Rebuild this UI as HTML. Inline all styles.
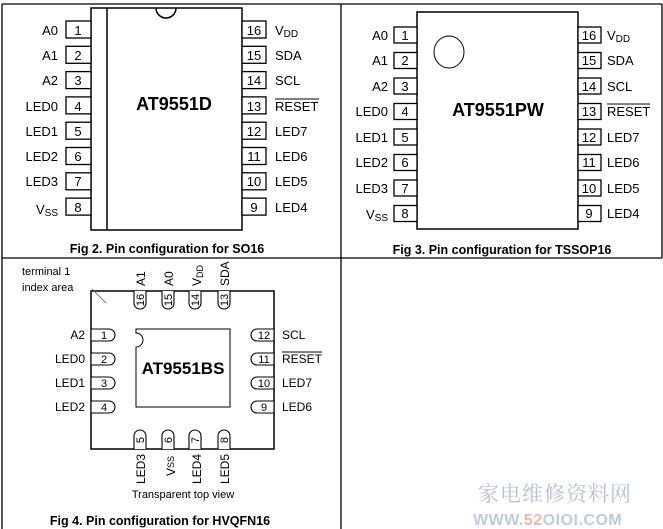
<!DOCTYPE html>
<html><head><meta charset="utf-8"><style>
html,body{margin:0;padding:0;background:#fff;}
svg{display:block;}
text{font-family:"Liberation Sans",Arial,sans-serif;fill:#000;}
.l{font-size:13px;}
.n{font-size:13px;}
.cap{font-size:12.5px;font-weight:bold;}
.t{font-size:18px;font-weight:bold;}
</style></head><body>
<svg width="663" height="529" viewBox="0 0 663 529" xmlns="http://www.w3.org/2000/svg">
<g stroke="#000" stroke-width="1.3" fill="none">
<line x1="2" y1="4" x2="662" y2="4"/>
<line x1="2" y1="4" x2="2" y2="529"/>
<line x1="341" y1="4" x2="341" y2="529"/>
<line x1="662" y1="4" x2="662" y2="258"/>
<line x1="2" y1="258" x2="662" y2="258"/>
</g>

<!-- SO16 -->
<g stroke="#000" stroke-width="1.5" fill="#fff">
<rect x="91" y="8" width="151" height="222"/>
<line x1="107" y1="8" x2="107" y2="230"/>
<path d="M156 8 A10 10 0 0 0 176 8" fill="none"/>
</g>
<g stroke="#000" stroke-width="1.3" fill="#fff">
<rect x="66" y="21" width="25" height="17"/><rect x="66" y="46.3" width="25" height="17"/><rect x="66" y="71.6" width="25" height="17"/><rect x="66" y="96.9" width="25" height="17"/>
<rect x="66" y="122.2" width="25" height="17"/><rect x="66" y="147.5" width="25" height="17"/><rect x="66" y="172.8" width="25" height="17"/><rect x="66" y="198.1" width="25" height="17"/>
<rect x="242" y="21" width="24" height="17"/><rect x="242" y="46.3" width="24" height="17"/><rect x="242" y="71.6" width="24" height="17"/><rect x="242" y="96.9" width="24" height="17"/>
<rect x="242" y="122.2" width="24" height="17"/><rect x="242" y="147.5" width="24" height="17"/><rect x="242" y="172.8" width="24" height="17"/><rect x="242" y="198.1" width="24" height="17"/>
</g>
<g class="n" text-anchor="middle">
<text x="78" y="35">1</text><text x="78" y="60">2</text><text x="78" y="85">3</text><text x="78" y="111">4</text><text x="78" y="136">5</text><text x="78" y="161">6</text><text x="78" y="186">7</text><text x="78" y="212">8</text>
<text x="254" y="35">16</text><text x="254" y="60">15</text><text x="254" y="85">14</text><text x="254" y="111">13</text><text x="254" y="136">12</text><text x="254" y="161">11</text><text x="254" y="186">10</text><text x="254" y="212">9</text>
</g>
<g class="l" text-anchor="end">
<text x="58" y="35">A0</text><text x="58" y="60">A1</text><text x="58" y="85">A2</text><text x="58" y="111">LED0</text><text x="58" y="136">LED1</text><text x="58" y="161">LED2</text><text x="58" y="186">LED3</text><text x="58" y="214">V<tspan font-size="10" dy="2">SS</tspan></text>
</g>
<g class="l">
<text x="275" y="35">V<tspan font-size="10" dy="2">DD</tspan></text><text x="275" y="60">SDA</text><text x="275" y="85">SCL</text><text x="275" y="111">RESET</text><text x="275" y="136">LED7</text><text x="275" y="161">LED6</text><text x="275" y="186">LED5</text><text x="275" y="212">LED4</text>
</g>
<line x1="275" y1="99" x2="319" y2="99" stroke="#000" stroke-width="1"/>
<text class="t" x="174" y="110" text-anchor="middle">AT9551D</text>
<text class="cap" x="167" y="253" text-anchor="middle">Fig 2. Pin configuration for SO16</text>

<!-- TSSOP16 -->
<g stroke="#000" stroke-width="1.5" fill="#fff">
<rect x="417" y="12" width="161" height="217"/>
<ellipse cx="449" cy="52" rx="15" ry="16" stroke-width="1"/>
</g>
<g stroke="#000" stroke-width="1.3" fill="#fff">
<rect x="394" y="27" width="23" height="16"/><rect x="394" y="52.5" width="23" height="16"/><rect x="394" y="78" width="23" height="16"/><rect x="394" y="103.5" width="23" height="16"/>
<rect x="394" y="129" width="23" height="16"/><rect x="394" y="154.5" width="23" height="16"/><rect x="394" y="180" width="23" height="16"/><rect x="394" y="205.5" width="23" height="16"/>
<rect x="578" y="27" width="23" height="16"/><rect x="578" y="52.5" width="23" height="16"/><rect x="578" y="78" width="23" height="16"/><rect x="578" y="103.5" width="23" height="16"/>
<rect x="578" y="129" width="23" height="16"/><rect x="578" y="154.5" width="23" height="16"/><rect x="578" y="180" width="23" height="16"/><rect x="578" y="205.5" width="23" height="16"/>
</g>
<g class="n" text-anchor="middle">
<text x="405" y="40">1</text><text x="405" y="65">2</text><text x="405" y="91">3</text><text x="405" y="116">4</text><text x="405" y="142">5</text><text x="405" y="167">6</text><text x="405" y="193">7</text><text x="405" y="218">8</text>
<text x="589" y="40">16</text><text x="589" y="65">15</text><text x="589" y="91">14</text><text x="589" y="116">13</text><text x="589" y="142">12</text><text x="589" y="167">11</text><text x="589" y="193">10</text><text x="589" y="218">9</text>
</g>
<g class="l" text-anchor="end">
<text x="388" y="40">A0</text><text x="388" y="65">A1</text><text x="388" y="91">A2</text><text x="388" y="116">LED0</text><text x="388" y="142">LED1</text><text x="388" y="167">LED2</text><text x="388" y="193">LED3</text><text x="388" y="219">V<tspan font-size="10" dy="2">SS</tspan></text>
</g>
<g class="l">
<text x="607" y="40">V<tspan font-size="10" dy="2">DD</tspan></text><text x="607" y="65">SDA</text><text x="607" y="91">SCL</text><text x="607" y="116">RESET</text><text x="607" y="142">LED7</text><text x="607" y="167">LED6</text><text x="607" y="193">LED5</text><text x="607" y="218">LED4</text>
</g>
<line x1="607" y1="104" x2="650" y2="104" stroke="#000" stroke-width="1"/>
<text class="t" x="498" y="116" text-anchor="middle">AT9551PW</text>
<text class="cap" x="502" y="254" text-anchor="middle">Fig 3. Pin configuration for TSSOP16</text>

<!-- HVQFN16 -->
<rect x="91" y="291" width="183" height="158" stroke="#000" stroke-width="1.5" fill="#fff"/>
<path d="M136 329 L230 329 L230 407 L136 407 L136 347 A7 7 0 0 0 136 333 Z" stroke="#000" stroke-width="1" fill="#fff"/>
<line x1="92" y1="289" x2="106" y2="303" stroke="#555" stroke-width="0.8"/>
<g stroke="#000" stroke-width="1.1" fill="#fff">
<path d="M91 329 H109 A6 6 0 0 1 109 341 H91 Z"/>
<path d="M91 353 H109 A6 6 0 0 1 109 365 H91 Z"/>
<path d="M91 377 H109 A6 6 0 0 1 109 389 H91 Z"/>
<path d="M91 401 H109 A6 6 0 0 1 109 413 H91 Z"/>
<path d="M274 329 H257 A6 6 0 0 0 257 341 H274 Z"/>
<path d="M274 353 H257 A6 6 0 0 0 257 365 H274 Z"/>
<path d="M274 377 H257 A6 6 0 0 0 257 389 H274 Z"/>
<path d="M274 401 H257 A6 6 0 0 0 257 413 H274 Z"/>
<path d="M134 291 V303 A6 6 0 0 0 146 303 V291"/>
<path d="M162 291 V303 A6 6 0 0 0 174 303 V291"/>
<path d="M189 291 V303 A6 6 0 0 0 201 303 V291"/>
<path d="M218 291 V303 A6 6 0 0 0 230 303 V291"/>
<path d="M134 449 V436 A6 6 0 0 1 146 436 V449"/>
<path d="M162 449 V436 A6 6 0 0 1 174 436 V449"/>
<path d="M189 449 V436 A6 6 0 0 1 201 436 V449"/>
<path d="M218 449 V436 A6 6 0 0 1 230 436 V449"/>
</g>
<g style="font-size:11px" text-anchor="middle">
<text x="104" y="339">1</text><text x="104" y="363">2</text><text x="104" y="387">3</text><text x="104" y="411">4</text>
<text x="264" y="339">12</text><text x="264" y="363">11</text><text x="264" y="387">10</text><text x="264" y="411">9</text>
<text transform="translate(144,300) rotate(-90)">16</text>
<text transform="translate(172,300) rotate(-90)">15</text>
<text transform="translate(199,300) rotate(-90)">14</text>
<text transform="translate(228,300) rotate(-90)">13</text>
<text transform="translate(144,440) rotate(-90)">5</text>
<text transform="translate(172,440) rotate(-90)">6</text>
<text transform="translate(199,440) rotate(-90)">7</text>
<text transform="translate(228,440) rotate(-90)">8</text>
</g>
<g style="font-size:12px">
<text x="85" y="339" text-anchor="end">A2</text><text x="85" y="363" text-anchor="end">LED0</text><text x="85" y="387" text-anchor="end">LED1</text><text x="85" y="411" text-anchor="end">LED2</text>
<text x="282" y="339">SCL</text><text x="282" y="363">RESET</text><text x="282" y="387">LED7</text><text x="282" y="411">LED6</text>
<text transform="translate(145,286) rotate(-90)">A1</text>
<text transform="translate(173,286) rotate(-90)">A0</text>
<text transform="translate(201,286) rotate(-90)">V<tspan font-size="9" dy="2">DD</tspan></text>
<text transform="translate(229,286) rotate(-90)">SDA</text>
<text transform="translate(145,484) rotate(-90)">LED3</text>
<text transform="translate(175,476) rotate(-90)">V<tspan font-size="9" dy="-1">SS</tspan></text>
<text transform="translate(201,484) rotate(-90)">LED4</text>
<text transform="translate(229,484) rotate(-90)">LED5</text>
</g>
<line x1="282" y1="352" x2="322" y2="352" stroke="#000" stroke-width="1"/>
<text style="font-size:11px" x="22" y="275">terminal 1</text>
<text style="font-size:11px" x="22" y="291">index area</text>
<text class="t" x="183" y="374" text-anchor="middle" style="font-size:17px">AT9551BS</text>
<text style="font-size:11px" x="183" y="498" text-anchor="middle">Transparent top view</text>
<text class="cap" x="160" y="525" text-anchor="middle">Fig 4. Pin configuration for HVQFN16</text>

<!-- watermark -->
<text x="478" y="501" style="font-family:'Liberation Serif','Noto Serif CJK SC',serif;font-size:21px;fill:#b8bfd6;letter-spacing:1px">家电维修资料网</text>
<text x="473" y="525" style="font-size:16px;font-weight:bold;fill:#c3c9dd;letter-spacing:0.5px">WWW.<tspan style="fill:#f0b8a8">52</tspan>OIOI.COM</text>
</svg>
</body></html>
